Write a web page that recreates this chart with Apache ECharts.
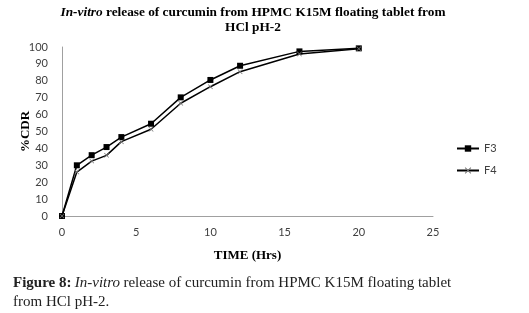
<!DOCTYPE html>
<html>
<head>
<meta charset="utf-8">
<script src="https://cdn.jsdelivr.net/npm/echarts@6/dist/echarts.min.js"></script>
<style>
  html, body { margin: 0; padding: 0; background: #fff; }
  #main { width: 529px; height: 313px; }
</style>
</head>
<body>
<div id="main"></div>
<script>
// time points (hrs)
const hours = [0, 1, 2, 3, 4, 6, 8, 10, 12, 16, 20];
// %CDR values
const f3 = [0, 30, 36, 40.8, 46.7, 54.6, 70.2, 80.5, 88.9, 97.4, 99.2];
const f4 = [0, 26, 32.5, 35.9, 44, 51.3, 66.7, 76.5, 85.4, 95.9, 99];

const pair = (ys) => hours.map((h, i) => [h, ys[i]]);

const crossPath = "path://M0,1L1,0L5,4L9,0L10,1L6,5L10,9L9,10L5,6L1,10L0,9L4,5Z";

let chart = echarts.init(document.getElementById("main"));
let option = {
  animation: false,
  backgroundColor: "#fff",
  title: {
    text: "{i|In-vitro}{b| release of curcumin from HPMC K15M floating tablet from}\n{b|HCl pH-2}",
    left: 248,
    top: 0,
    textAlign: "center",
    textStyle: {
      rich: {
        i: { fontFamily: "Liberation Serif", fontSize: 13.3, fontWeight: "bold", fontStyle: "italic", color: "#000", lineHeight: 15 },
        b: { fontFamily: "Liberation Serif", fontSize: 13.3, fontWeight: "bold", color: "#000", lineHeight: 15 }
      }
    }
  },
  legend: {
    orient: "vertical",
    left: 451,
    top: 138,
    itemWidth: 22,
    itemHeight: 8,
    itemGap: 11,
    textStyle: { fontFamily: "Lato", fontSize: 11, color: "#404040" },
    data: ["F3", "F4"]
  },
  grid: { left: 62, right: 96, top: 47, bottom: 97 },
  xAxis: {
    type: "value",
    min: 0, max: 25, interval: 5,
    name: "TIME (Hrs)",
    nameLocation: "middle",
    nameGap: 33,
    nameTextStyle: { fontFamily: "Liberation Serif", fontWeight: "bold", fontSize: 13, color: "#000" },
    axisLine: { lineStyle: { color: "#a0a0a0" } },
    axisTick: { show: false },
    splitLine: { show: false },
    axisLabel: { fontFamily: "Lato", fontSize: 11, color: "#404040", margin: 11 }
  },
  yAxis: {
    type: "value",
    min: 0, max: 100, interval: 10,
    name: "%CDR",
    nameLocation: "middle",
    nameGap: 30,
    nameMoveOverlap: false,
    nameTextStyle: { fontFamily: "Liberation Serif", fontWeight: "bold", fontSize: 13, color: "#000" },
    axisLine: { show: true, lineStyle: { color: "#a0a0a0" } },
    axisTick: { show: false },
    splitLine: { show: false },
    axisLabel: { fontFamily: "Lato", fontSize: 11, color: "#404040", margin: 14 }
  },
  series: [
    {
      name: "F3",
      type: "line",
      data: pair(f3),
      symbol: "rect",
      symbolSize: 6,
      lineStyle: { color: "#000", width: 1.5 },
      itemStyle: { color: "#000" }
    },
    {
      name: "F4",
      type: "line",
      data: pair(f4),
      symbol: crossPath,
      symbolSize: 5,
      lineStyle: { color: "#000", width: 1.5 },
      itemStyle: { color: "#777" }
    }
  ],
  graphic: [
    {
      type: "text",
      left: 13,
      top: 276,
      style: {
        text: "{b|Figure 8:} {i|In-vitro} {r|release of curcumin from HPMC K15M floating tablet}\n{r|from HCl pH-2.}",
        rich: {
          b: { fontFamily: "Liberation Serif", fontSize: 15, fontWeight: "bold", fill: "#222", lineHeight: 19 },
          i: { fontFamily: "Liberation Serif", fontSize: 15, fontStyle: "italic", fill: "#222", lineHeight: 19 },
          r: { fontFamily: "Liberation Serif", fontSize: 15, fill: "#222", lineHeight: 19 }
        }
      }
    }
  ]
};
chart.setOption(option);
</script>
</body>
</html>
